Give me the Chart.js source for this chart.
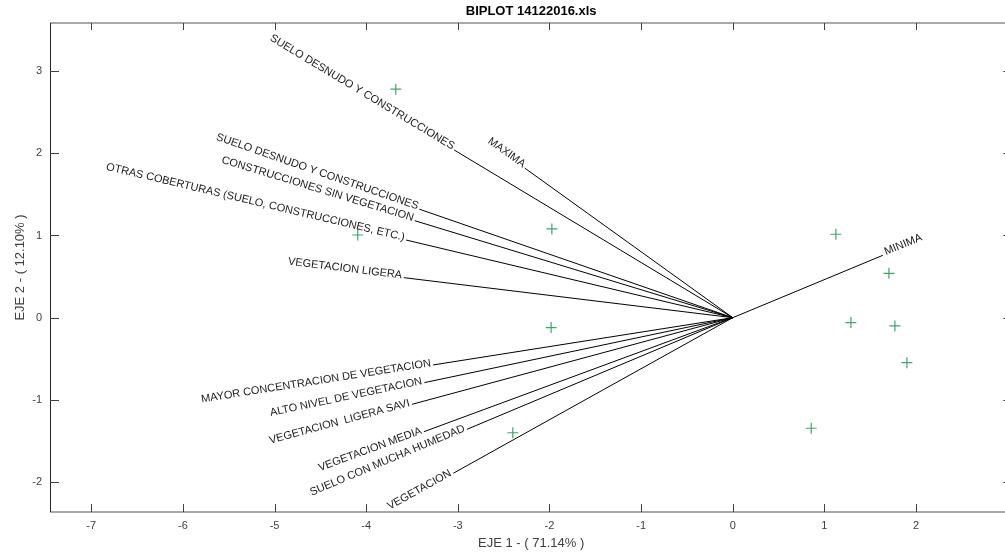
<!DOCTYPE html>
<html>
<head>
<meta charset="utf-8">
<script src="https://cdn.jsdelivr.net/npm/chart.js@4"></script>
<style>
  html, body { margin: 0; padding: 0; overflow: hidden; background: #fff; }
  #wrap { width: 1019px; height: 554px; }
</style>
</head>
<body>
<div id="wrap"><canvas id="biplotChart" width="1019" height="554"></canvas></div>
<script>
// variable vectors (loadings)
const varNames = [
    "SUELO DESNUDO Y CONSTRUCCIONES",
    "MAXIMA",
    "SUELO DESNUDO Y CONSTRUCCIONES",
    "CONSTRUCCIONES SIN VEGETACION",
    "OTRAS COBERTURAS (SUELO, CONSTRUCCIONES, ETC.)",
    "VEGETACION LIGERA",
    "MAYOR CONCENTRACION DE VEGETACION",
    "ALTO NIVEL DE VEGETACION",
    "VEGETACION  LIGERA SAVI",
    "VEGETACION MEDIA",
    "SUELO CON MUCHA HUMEDAD",
    "VEGETACION",
    "MINIMA"
];
const varX = [-3.04, -2.27, -3.42, -3.47, -3.565, -3.59, -3.27, -3.365, -3.50, -3.37, -2.90, -3.05, 1.638];
const varY = [2.04, 1.82, 1.32, 1.18, 0.945, 0.487, -0.575, -0.79, -1.054, -1.387, -1.358, -1.893, 0.759];

// observation scores
const obsX = [-3.677, -1.974, -4.092, -1.982, -2.40, 1.125, 1.704, 1.289, 1.769, 1.90, 0.856];
const obsY = [2.78, 1.08, 1.006, -0.12, -1.40, 1.015, 0.54, -0.06, -0.10, -0.547, -1.345];

const xTicks = [-7, -6, -5, -4, -3, -2, -1, 0, 1, 2, 3];
const yTicks = [-2, -1, 0, 1, 2, 3];

const FONT = "Arial, 'Liberation Sans', sans-serif";

// frame, inward ticks and vector labels (MATLAB style)
const biplotDecor = {
    id: "biplotDecor",
    afterDatasetsDraw(chart) {
        const ctx = chart.ctx;
        const xs = chart.scales.x, ys = chart.scales.y;
        const a = chart.chartArea;
        ctx.save();

        ctx.strokeStyle = "#8c8c8c";
        ctx.lineWidth = 1.5;
        ctx.beginPath();
        ctx.moveTo(a.left, a.top); ctx.lineTo(a.right, a.top);
        ctx.moveTo(a.left, a.bottom); ctx.lineTo(a.right, a.bottom);
        ctx.stroke();
        ctx.strokeStyle = "#262626";
        ctx.lineWidth = 1;
        ctx.beginPath();
        ctx.moveTo(a.left + 0.5, a.top); ctx.lineTo(a.left + 0.5, a.bottom);
        ctx.moveTo(a.right - 0.5, a.top); ctx.lineTo(a.right - 0.5, a.bottom);
        ctx.stroke();

        ctx.strokeStyle = "#404040";
        ctx.beginPath();
        xTicks.forEach(v => {
            const px = Math.round(xs.getPixelForValue(v)) + 0.5;
            ctx.moveTo(px, a.bottom); ctx.lineTo(px, a.bottom - 8);
            ctx.moveTo(px, a.top); ctx.lineTo(px, a.top + 7);
        });
        yTicks.forEach(v => {
            const py = Math.round(ys.getPixelForValue(v)) + 0.5;
            ctx.moveTo(a.left, py); ctx.lineTo(a.left + 9, py);
            ctx.moveTo(a.right, py); ctx.lineTo(a.right - 9, py);
        });
        ctx.stroke();

        const ox = xs.getPixelForValue(0), oy = ys.getPixelForValue(0);
        ctx.fillStyle = "#1a1a1a";
        ctx.font = "11px " + FONT;
        ctx.textBaseline = "middle";
        varNames.forEach((name, i) => {
            const px = xs.getPixelForValue(varX[i]);
            const py = ys.getPixelForValue(varY[i]);
            const ang = Math.atan2(py - oy, px - ox);
            ctx.save();
            ctx.translate(px, py);
            if (px < ox) {
                ctx.rotate(ang + Math.PI);
                ctx.textAlign = "right";
                ctx.fillText(name, -2, -2);
            } else {
                ctx.rotate(ang);
                ctx.textAlign = "left";
                ctx.fillText(name, 3, -2);
            }
            ctx.restore();
        });
        ctx.restore();
    }
};

const datasets = [{
    label: "obs",
    data: obsX.map((x, i) => ({ x: x, y: obsY[i] })),
    pointStyle: "cross",
    pointRadius: 5.5,
    borderColor: "#3fa56a",
    borderWidth: 1.2,
    showLine: false
}];
varNames.forEach((name, i) => {
    datasets.push({
        label: name,
        data: [{ x: 0, y: 0 }, { x: varX[i], y: varY[i] }],
        showLine: true,
        borderColor: "#000",
        borderWidth: 1,
        pointRadius: 0
    });
});

new Chart(document.getElementById("biplotChart").getContext("2d"), {
    type: "scatter",
    data: { datasets: datasets },
    options: {
        responsive: false,
        animation: false,
        layout: { padding: 0 },
        plugins: {
            legend: { display: false },
            tooltip: { enabled: false },
            title: {
                display: true,
                text: "BIPLOT 14122016.xls",
                fullSize: false,
                color: "#000",
                font: { family: FONT, size: 13, weight: "bold", lineHeight: 1.2 },
                padding: { top: 4, bottom: 3.4 }
            }
        },
        scales: {
            x: {
                type: "linear",
                min: -7.45,
                max: 3.05,
                afterBuildTicks: s => { s.ticks = xTicks.map(v => ({ value: v })); },
                afterFit: s => { s.height = 42; s.paddingLeft = 0; s.paddingRight = 0; },
                grid: { display: false, drawTicks: false },
                border: { display: false },
                ticks: { autoSkip: false, maxRotation: 0, padding: 7, color: "#404040", font: { family: FONT, size: 11 } },
                title: { display: true, text: "EJE 1 - ( 71.14% )", color: "#404040", font: { family: FONT, size: 13 }, padding: { top: 0, bottom: 3 } }
            },
            y: {
                type: "linear",
                min: -2.364,
                max: 3.585,
                afterBuildTicks: s => { s.ticks = yTicks.map(v => ({ value: v })); },
                afterFit: s => { s.width = 50; s.paddingTop = 0; s.paddingBottom = 0; },
                grid: { display: false, drawTicks: false },
                border: { display: false },
                ticks: { autoSkip: false, padding: 8, color: "#404040", font: { family: FONT, size: 11 } },
                title: { display: true, text: "EJE 2 - ( 12.10% )", color: "#404040", font: { family: FONT, size: 13 }, padding: { top: 13, bottom: 0 } }
            }
        }
    },
    plugins: [biplotDecor]
});
</script>
</body>
</html>
